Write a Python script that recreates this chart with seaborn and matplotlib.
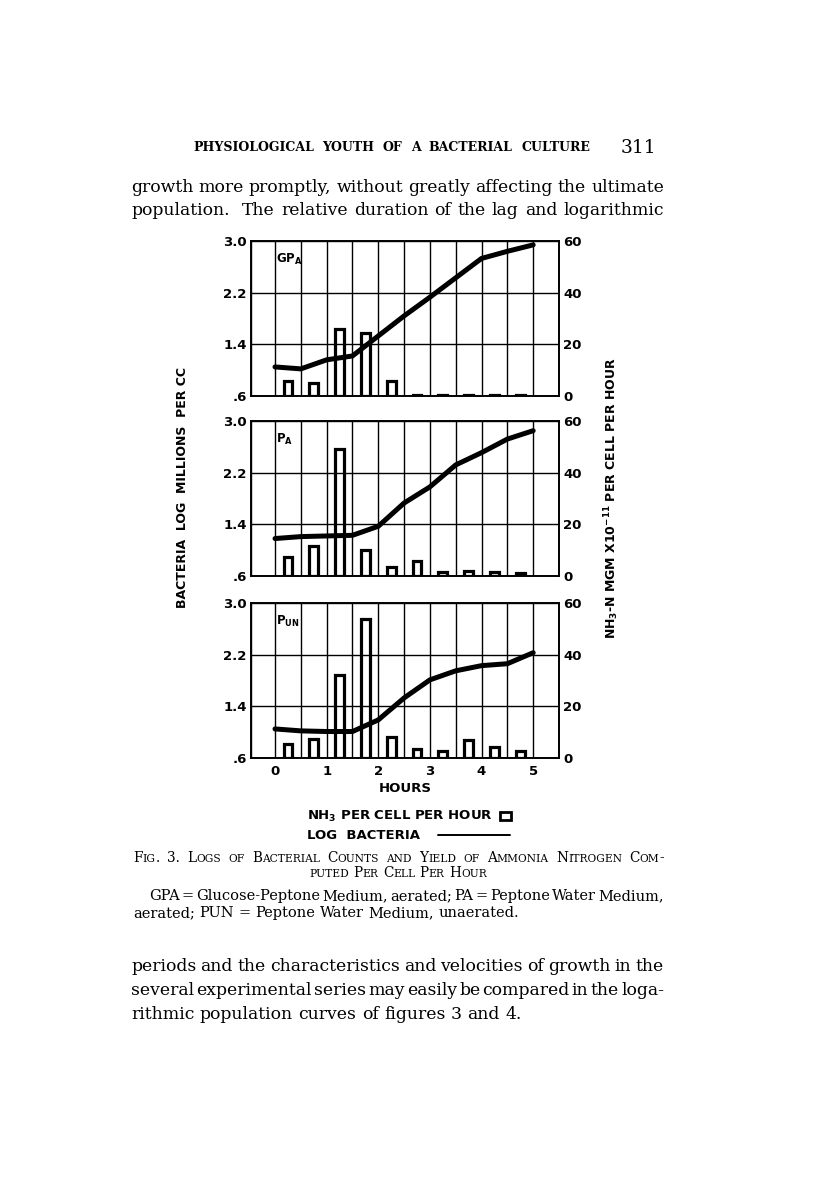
import matplotlib
matplotlib.use("Agg")
import matplotlib.pyplot as plt
import seaborn as sns
import pandas as pd
from matplotlib.patches import Rectangle
from matplotlib.lines import Line2D

# data
hours = [0, 0.5, 1, 1.5, 2, 2.5, 3, 3.5, 4, 4.5, 5]
bar_hours = [0.25, 0.75, 1.25, 1.75, 2.25, 2.75, 3.25, 3.75, 4.25, 4.75]

gpa_log = [1.05, 1.02, 1.16, 1.22, 1.53, 1.84, 2.13, 2.43, 2.73, 2.84, 2.94]
gpa_nh3 = [6, 5, 26, 24.5, 6, 0.3, 0.3, 0.3, 0.3, 0.3]
pa_log = [1.18, 1.21, 1.22, 1.23, 1.37, 1.73, 1.98, 2.32, 2.51, 2.72, 2.85]
pa_nh3 = [7.5, 11.5, 49, 10, 3.6, 5.7, 1.5, 1.8, 1.5, 1.0]
pun_log = [1.05, 1.02, 1.01, 1.01, 1.19, 1.53, 1.81, 1.95, 2.03, 2.06, 2.23]
pun_nh3 = [5.4, 7.5, 32, 54, 8, 3.3, 2.8, 7.1, 4.3, 2.8]

panel_names = [r"GP$_{\mathregular{A}}$", r"P$_{\mathregular{A}}$", r"P$_{\mathregular{UN}}$"]
left_ticks = [0.6, 1.4, 2.2, 3.0]
left_labels = [".6", "1.4", "2.2", "3.0"]
right_ticks = [0, 20, 40, 60]
right_labels = ["0", "20", "40", "60"]
x_lo, x_hi = -0.465, 5.5
grid_x = [x_lo] + hours + [x_hi]
hour_labels = [""] + ["0", "", "1", "", "2", "", "3", "", "4", "", "5"] + [""]

sns.set_style("white")
plt.rcParams["font.family"] = ["DejaVu Sans"]
plt.rcParams["mathtext.default"] = "bf"
for k in ("text.color", "axes.labelcolor", "xtick.color", "ytick.color", "axes.edgecolor"):
    plt.rcParams[k] = "black"
SANS = dict(family="DejaVu Sans", weight="bold")
SERIF = "DejaVu Serif"

W, H = 816, 1193
fig = plt.figure(figsize=(W / 100, H / 100), dpi=100)
fig.patch.set_facecolor("white")
renderer = fig.canvas.get_renderer()


def inch(px, py):
    return px / 100, (H - py) / 100


def runs_of(word, size, smallcaps):
    if not smallcaps:
        return [(word, size)]
    out = []
    for ch in word:
        s = size * 0.78 if ch.islower() else size
        c = ch.upper()
        if out and out[-1][1] == s:
            out[-1] = (out[-1][0] + c, s)
        else:
            out.append((c, s))
    return out


def measure(s, size, family, weight):
    t = fig.text(0, 0, s, fontsize=size, family=family, weight=weight)
    w = t.get_window_extent(renderer).width
    t.remove()
    return w


def put_line(text, y, x0, x1=None, size=12, family=SERIF, weight="normal",
             smallcaps=False, center=None):
    words = text.split(" ")
    wruns = [runs_of(w, size, smallcaps) for w in words]
    widths = [[measure(s, sz, family, weight) for s, sz in r] for r in wruns]
    total = sum(sum(w) for w in widths)
    if x1 is not None and len(words) > 1:
        g = (x1 - x0 - total) / (len(words) - 1)
    else:
        g = measure("a a", size, family, weight) - measure("aa", size, family, weight)
        if center is not None:
            x0 = center - (total + g * (len(words) - 1)) / 2
    x = x0
    for r, ws in zip(wruns, widths):
        for (s, sz), w in zip(r, ws):
            fig.text(*inch(x, y), s, fontsize=sz, family=family, weight=weight,
                     va="baseline", ha="left", transform=fig.dpi_scale_trans)
            x += w
        x += g


# page text above the figure
put_line("PHYSIOLOGICAL YOUTH OF A BACTERIAL CULTURE", 151, 193, 590, size=9, weight="bold")
fig.text(*inch(621, 153), "311", fontsize=13.5, family=SERIF, va="baseline",
         transform=fig.dpi_scale_trans)
put_line("growth more promptly, without greatly affecting the ultimate", 192, 131, 664, size=12.4)
put_line("population.  The relative duration of the lag and logarithmic", 215, 131, 664, size=12.4)

# the three panels
panel_tops = [241, 421, 603]
panel_h = 155
panels = [(gpa_log, gpa_nh3), (pa_log, pa_nh3), (pun_log, pun_nh3)]

for i, (top, (logs, nh3)) in enumerate(zip(panel_tops, panels)):
    ax = fig.add_axes([251 / W, 1 - (top + panel_h) / H, 308 / W, panel_h / H])
    ax2 = ax.twinx()

    sns.lineplot(x=hours, y=logs, ax=ax, color="black", linewidth=3.6,
                 solid_joinstyle="miter")
    df = pd.DataFrame({"hour": bar_hours, "nh3": nh3})
    sns.barplot(data=df, x="hour", y="nh3", ax=ax2, native_scale=True,
                width=0.34, fill=False, color="black", linewidth=2.3,
                errorbar=None)
    for p in ax2.patches:
        p.set_edgecolor("black")
        p.set_joinstyle("miter")

    ax.set_xlim(x_lo, x_hi)
    ax.set_ylim(0.6, 3.0)
    ax2.set_ylim(0, 60)
    ax.set_xticks(grid_x)
    ax.set_yticks(left_ticks)
    ax.set_yticklabels(left_labels, fontsize=9.5, **SANS)
    ax2.set_yticks(right_ticks)
    ax2.set_yticklabels(right_labels, fontsize=9.5, **SANS)
    ax.grid(True, color="black", linewidth=1.0)
    ax.set_axisbelow(True)
    for a in (ax, ax2):
        for sp in a.spines.values():
            sp.set_visible(True)
            sp.set_color("black")
            sp.set_linewidth(1.2)
        a.set_xlabel("")
        a.set_ylabel("")
    ax.tick_params(axis="y", length=0, pad=3)
    ax2.tick_params(axis="y", length=0, pad=3)
    if i < 2:
        ax.set_xticklabels([])
        ax.tick_params(axis="x", length=10, width=1.2, direction="out", color="black")
    else:
        ax.set_xticklabels(hour_labels, fontsize=9.5, **SANS)
        ax.tick_params(axis="x", length=0, pad=5)
        ax.set_xlabel("HOURS", fontsize=9.5, labelpad=3, **SANS)
    ax2.tick_params(axis="x", length=0)
    ax.text(0.08, 0.88, panel_names[i], transform=ax.transAxes, fontsize=8.5,
            va="center", ha="left", **SANS)

# outer axis titles
fig.text(*inch(183, 487), "BACTERIA  LOG  MILLIONS  PER CC", rotation=90,
         fontsize=9, ha="center", va="center", transform=fig.dpi_scale_trans, **SANS)
fig.text(*inch(612, 498), r"NH$_3$-N MGM X10$^{-11}$ PER CELL PER HOUR", rotation=90,
         fontsize=9, ha="center", va="center", transform=fig.dpi_scale_trans, **SANS)

# key
fig.text(*inch(307, 820), r"NH$_3$ PER CELL PER HOUR", fontsize=9.5, va="baseline",
         transform=fig.dpi_scale_trans, **SANS)
fig.patches.append(Rectangle(inch(500, 820), 0.11, 0.085, fill=False, edgecolor="black",
                             linewidth=2.0, transform=fig.dpi_scale_trans))
fig.text(*inch(307, 839), "LOG  BACTERIA", fontsize=9.5, va="baseline",
         transform=fig.dpi_scale_trans, **SANS)
lx0, ly = inch(438, 835)
lx1, _ = inch(510, 835)
fig.lines.append(Line2D([lx0, lx1], [ly, ly], color="black", linewidth=1.4,
                        transform=fig.dpi_scale_trans))

# caption
put_line("Fig. 3. Logs of Bacterial Counts and Yield of Ammonia Nitrogen Com-",
         862, 133, 664, size=9.8, smallcaps=True)
put_line("puted Per Cell Per Hour", 877, 0, size=9.8, smallcaps=True, center=398)
put_line("GPA = Glucose-Peptone Medium, aerated; PA = Peptone Water Medium,",
         900, 149, 664, size=10.5)
put_line("aerated; PUN = Peptone Water Medium, unaerated.", 917, 133, size=10.5)

# page text below the figure
put_line("periods and the characteristics and velocities of growth in the", 971, 131, 664, size=12.4)
put_line("several experimental series may easily be compared in the loga-", 995, 131, 664, size=12.4)
put_line("rithmic population curves of figures 3 and 4.", 1019, 131, size=12.4)

fig.savefig("out.png", dpi=100, facecolor="white")
